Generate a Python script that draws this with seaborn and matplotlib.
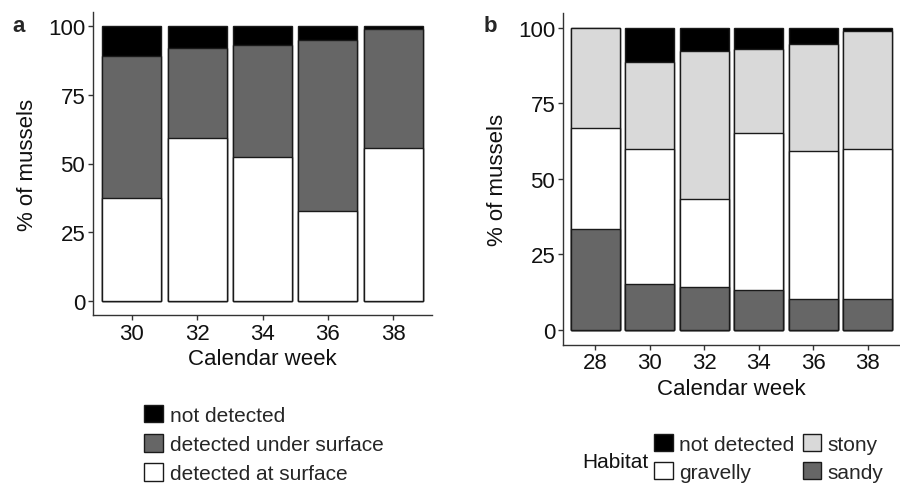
import numpy as np
import pandas as pd
import matplotlib
matplotlib.use("Agg")
import matplotlib.pyplot as plt
from matplotlib.patches import Patch
import seaborn as sns

# ---- data panel a ----
weeks_a = [30, 32, 34, 36, 38]
at_surface = [37.5, 59.1, 52.4, 32.6, 55.8]
under_surface = [51.4, 32.9, 40.6, 62.1, 43.0]
not_detected_a = [11.1, 8.0, 7.0, 5.3, 1.2]
labels_a = ["not detected", "detected under surface", "detected at surface"]

# ---- data panel b ----
weeks_b = [28, 30, 32, 34, 36, 38]
sandy = [33.3, 15.0, 14.1, 13.3, 10.0, 10.0]
gravelly = [33.4, 44.9, 29.3, 51.8, 49.3, 49.9]
stony = [33.3, 28.9, 48.9, 27.9, 35.5, 39.0]
not_detected_b = [0.0, 11.2, 7.7, 7.0, 5.2, 1.1]
labels_b = ["not detected", "gravelly", "stony", "sandy"]

C_BLACK = "#000000"
C_DARK = "#666666"
C_WHITE = "#ffffff"
C_LIGHT = "#d9d9d9"
EDGE = "#1a1a1a"

sns.set_theme(style="ticks")
plt.rcParams["font.family"] = ["Liberation Sans", "DejaVu Sans"]
FS = 16
LFS = 15

fig = plt.figure(figsize=(9, 4.85), dpi=100)
ax_a = fig.add_axes([93/900, (485-316)/485, (432-93)/900, (316-13)/485])
ax_b = fig.add_axes([563/900, (485-345.7)/485, (900-563)/900, (345.7-14)/485])


def stacked(ax, weeks, layers, colors):
    # layers ordered bottom -> top; draw cumulative tops from tallest down
    cum = np.cumsum(np.array(layers, dtype=float), axis=0)
    for i in range(len(layers) - 1, -1, -1):
        df = pd.DataFrame({"week": weeks, "top": cum[i]})
        sns.barplot(data=df, x="week", y="top", ax=ax, native_scale=True,
                    width=0.9, color=colors[i], saturation=1, errorbar=None,
                    edgecolor=EDGE, linewidth=1.0)


stacked(ax_a, weeks_a, [at_surface, under_surface, not_detected_a],
        [C_WHITE, C_DARK, C_BLACK])
stacked(ax_b, weeks_b, [sandy, gravelly, stony, not_detected_b],
        [C_DARK, C_WHITE, C_LIGHT, C_BLACK])

for ax, weeks, xl in [(ax_a, weeks_a, (28.81, 39.19)), (ax_b, weeks_b, (26.82, 39.18))]:
    ax.set_xlim(*xl)
    ax.set_ylim(-5, 105)
    ax.set_xticks(weeks)
    ax.set_xticklabels([str(w) for w in weeks])
    ax.set_yticks([0, 25, 50, 75, 100])
    ax.set_yticklabels(["0", "25", "50", "75", "100"])
    ax.tick_params(labelsize=FS, length=3.6, width=1, color="#333333",
                   labelcolor="#111111", pad=2)
    ax.set_xlabel("Calendar week", fontsize=FS, labelpad=3, color="#111111")
    ax.set_ylabel("% of mussels", fontsize=FS, labelpad=7, color="#111111")
    for s in ["top", "right"]:
        ax.spines[s].set_visible(False)
    for s in ["left", "bottom"]:
        ax.spines[s].set_linewidth(1.0)
        ax.spines[s].set_color("#333333")
    ax.set_facecolor("white")

fig.text(12/900, 1 - 32/485, "a", fontsize=16, fontweight="bold")
fig.text(484/900, 1 - 32/485, "b", fontsize=16, fontweight="bold")

# legend a
handles_a = [Patch(facecolor=c, edgecolor=EDGE, linewidth=1.0)
             for c in [C_BLACK, C_DARK, C_WHITE]]
fig.legend(handles_a, labels_a, loc="upper left",
           bbox_to_anchor=(144/900, 1 - 406/485), frameon=False,
           fontsize=LFS, handlelength=0.9, handleheight=0.9,
           handletextpad=0.35, labelspacing=0.45, borderpad=0, borderaxespad=0)

# legend b
handles_b = [Patch(facecolor=c, edgecolor=EDGE, linewidth=1.0)
             for c in [C_BLACK, C_WHITE, C_LIGHT, C_DARK]]
fig.legend(handles_b, labels_b, loc="upper left", ncol=2,
           bbox_to_anchor=(654/900, 1 - 435/485), frameon=False,
           fontsize=LFS, handlelength=0.9, handleheight=0.9,
           handletextpad=0.3, labelspacing=0.38, columnspacing=0.4,
           borderpad=0, borderaxespad=0)
fig.text(582/900, 1 - 463/485, "Habitat", fontsize=LFS, va="center", ha="left",
         color="#111111")

fig.savefig("out.png", dpi=100, facecolor="white")
